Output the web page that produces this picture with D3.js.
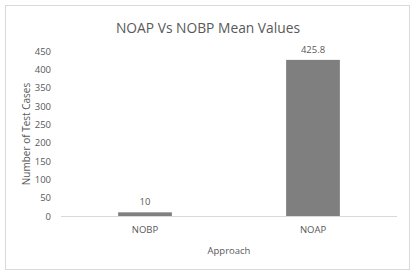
<!DOCTYPE html>
<html>
<head>
<meta charset="utf-8">
<title>NOAP Vs NOBP Mean Values</title>
<style>
  body { margin: 0; background: #fff; }
  text { font-family: "Open Sans", "Liberation Sans", sans-serif; fill: #595959; }
</style>
<script src="https://cdn.jsdelivr.net/npm/d3@7"></script>
</head>
<body>
<svg></svg>
<script>
const categories = ["NOBP", "NOAP"];
const values = [10, 425.8];
const yTicks = [0, 50, 100, 150, 200, 250, 300, 350, 400, 450];

const width = 417, height = 277;
const margin = {top: 51, right: 20, bottom: 61, left: 61};

const svg = d3.select("svg")
    .attr("width", width)
    .attr("height", height);

// chart frame
svg.append("rect")
    .attr("x", 5.5).attr("y", 5.5)
    .attr("width", 404).attr("height", 264)
    .attr("fill", "#fff")
    .attr("stroke", "#d9d9d9");

const x = d3.scaleBand()
    .domain(categories)
    .range([margin.left, width - margin.right])
    .paddingInner(0.68)
    .paddingOuter(0.34);

const y = d3.scaleLinear()
    .domain([0, 450])
    .range([height - margin.bottom, margin.top]);

// y axis labels
const yAxis = svg.append("g")
    .attr("transform", "translate(" + (margin.left - 10) + ",0)")
    .call(d3.axisLeft(y).tickValues(yTicks).tickSize(0).tickPadding(0));
yAxis.select(".domain").remove();
yAxis.selectAll("text")
    .style("font-size", "9.5px")
    .attr("fill", "#595959");

// baseline
svg.append("line")
    .attr("x1", margin.left).attr("x2", width - margin.right)
    .attr("y1", y(0) + 0.5).attr("y2", y(0) + 0.5)
    .attr("stroke", "#d9d9d9");

// bars
svg.append("g").selectAll("rect")
    .data(values)
  .join("rect")
    .attr("x", (d, i) => x(categories[i]))
    .attr("y", d => y(d))
    .attr("width", x.bandwidth())
    .attr("height", d => y(0) - y(d))
    .attr("fill", "#7f7f7f");

// data labels
svg.append("g").selectAll("text")
    .data(values)
  .join("text")
    .attr("x", (d, i) => x(categories[i]) + x.bandwidth() / 2)
    .attr("y", d => y(d) - 7)
    .attr("text-anchor", "middle")
    .style("font-size", "9.5px")
    .text(d => d);

// x axis labels
const xAxis = svg.append("g")
    .attr("transform", "translate(0," + y(0) + ")")
    .call(d3.axisBottom(x).tickSize(0).tickPadding(10));
xAxis.select(".domain").remove();
xAxis.selectAll("text")
    .style("font-size", "9.5px")
    .attr("fill", "#595959");

// titles
svg.append("text")
    .attr("x", 208).attr("y", 33)
    .attr("text-anchor", "middle")
    .style("font-size", "13.8px")
    .text("NOAP Vs NOBP Mean Values");

svg.append("text")
    .attr("x", 229).attr("y", 254)
    .attr("text-anchor", "middle")
    .style("font-size", "9.5px")
    .text("Approach");

svg.append("text")
    .attr("transform", "translate(30," + (margin.top + 83) + ") rotate(-90)")
    .attr("text-anchor", "middle")
    .style("font-size", "10px")
    .text("Number of Test Cases");
</script>
</body>
</html>
